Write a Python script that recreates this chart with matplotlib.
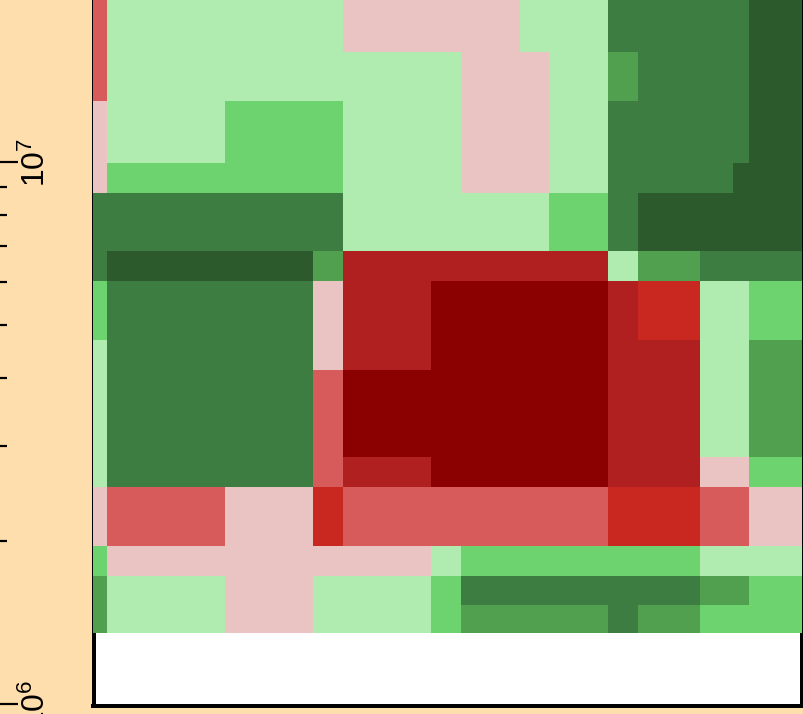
import numpy as np
import matplotlib
matplotlib.use("Agg")
import matplotlib.pyplot as plt
from matplotlib.colors import ListedColormap, BoundaryNorm
from matplotlib.ticker import LogLocator, LogFormatterMathtext, NullFormatter

# ---------------- data ----------------
# column edges (arbitrary linear units) and row edges (log scale values), top -> bottom
x_edges = [-0.46, 0, 4, 7, 8, 11, 12, 14, 15, 17, 18, 20.1, 21.23, 21.75, 23.55]
y_edges = [2.2e7, 1.60e7, 1.30e7, 9.97e6, 8.78e6, 6.86e6, 6.04e6, 4.70e6,
           4.14e6, 2.86e6, 2.52e6, 1.96e6, 1.72e6, 1.52e6, 1.35e6]

# level codes: -5 (darkest red) ... -1 (pink), 1 (light green) ... 5 (darkest green)
levels = [
    [-2, 1, 1, 1, -1, -1, -1, 1, 1, 4, 4, 4, 4, 5],
    [-2, 1, 1, 1, 1, 1, -1, -1, 1, 3, 4, 4, 4, 5],
    [-1, 1, 2, 2, 1, 1, -1, -1, 1, 4, 4, 4, 4, 5],
    [-1, 2, 2, 2, 1, 1, -1, -1, 1, 4, 4, 4, 5, 5],
    [4, 4, 4, 4, 1, 1, 1, 1, 2, 4, 5, 5, 5, 5],
    [4, 5, 5, 3, -4, -4, -4, -4, -4, 1, 3, 4, 4, 4],
    [2, 4, 4, -1, -4, -5, -5, -5, -5, -4, -3, 1, 1, 2],
    [1, 4, 4, -1, -4, -5, -5, -5, -5, -4, -4, 1, 1, 3],
    [1, 4, 4, -2, -5, -5, -5, -5, -5, -4, -4, 1, 1, 3],
    [1, 4, 4, -2, -4, -5, -5, -5, -5, -4, -4, -1, -1, 2],
    [-1, -2, -1, -3, -2, -2, -2, -2, -2, -3, -3, -2, -2, -1],
    [2, -1, -1, -1, -1, 1, 2, 2, 2, 2, 2, 1, 1, 1],
    [3, 1, -1, 1, 1, 2, 4, 4, 4, 4, 4, 3, 3, 2],
    [3, 1, -1, 1, 1, 2, 3, 3, 3, 4, 3, 2, 2, 2],
]

level_colors = ['#8B0000', '#B02020', '#C92820', '#D85B5B', '#EAC3C3',
                '#B0ECB0', '#6DD36F', '#50A050', '#3E7D41', '#2C5A2D']
level_bounds = [-5.5, -4.5, -3.5, -2.5, -1.5, 0, 1.5, 2.5, 3.5, 4.5, 5.5]

# ---------------- style ----------------
plt.rcParams['font.family'] = ['Liberation Sans', 'DejaVu Sans']
plt.rcParams['mathtext.fontset'] = 'custom'
plt.rcParams['mathtext.rm'] = 'Liberation Sans'
plt.rcParams['mathtext.it'] = 'Liberation Sans:italic'
plt.rcParams['mathtext.bf'] = 'Liberation Sans:bold'

W, H, DPI = 804, 714, 100
PT = 72.0 / DPI  # points per pixel

fig = plt.figure(figsize=(W / DPI, H / DPI), dpi=DPI, facecolor='#FFDEAD')
ax_l, ax_r, ax_top, ax_bot = 93.3, 801.7, 0.0, 706.0
ax = fig.add_axes([ax_l / W, (H - ax_bot) / H, (ax_r - ax_l) / W, (ax_bot - ax_top) / H])
ax.set_facecolor('white')
ax.set_yscale('log')

cmap = ListedColormap(level_colors)
norm = BoundaryNorm(level_bounds, cmap.N)
ax.pcolormesh(x_edges, y_edges, np.array(levels), cmap=cmap, norm=norm,
              shading='flat', zorder=3)

ax.set_xlim(x_edges[0], x_edges[-1])
ax.set_ylim(9.915e5, 1.9935e7)

for side in ['left', 'bottom', 'right']:
    ax.spines[side].set_linewidth(4 * PT)
    ax.spines[side].set_color('black')
ax.spines['top'].set_visible(False)
ax.spines['left'].set_position(('outward', -1.2 * PT))
ax.tick_params(which='both', left=False, bottom=False, right=False, top=False,
               labelleft=False, labelbottom=False)

# y axis ticks at the figure's left edge
sec = ax.secondary_yaxis(-ax_l / (ax_r - ax_l))
sec.spines['left'].set_visible(False)
sec.yaxis.set_major_locator(LogLocator(base=10))
sec.yaxis.set_minor_locator(LogLocator(base=10, subs=np.arange(2, 10)))
sec.yaxis.set_major_formatter(LogFormatterMathtext())
sec.yaxis.set_minor_formatter(NullFormatter())
sec.tick_params(which='major', direction='in', length=18 * PT, width=2.2 * PT,
                pad=-52 * PT, labelsize=23, labelrotation=90, color='black')
sec.tick_params(which='minor', direction='in', length=7 * PT, width=2.2 * PT,
                color='black')
for lbl in sec.get_yticklabels():
    lbl.set_verticalalignment('center')

fig.savefig('out.png', dpi=DPI, facecolor=fig.get_facecolor())
